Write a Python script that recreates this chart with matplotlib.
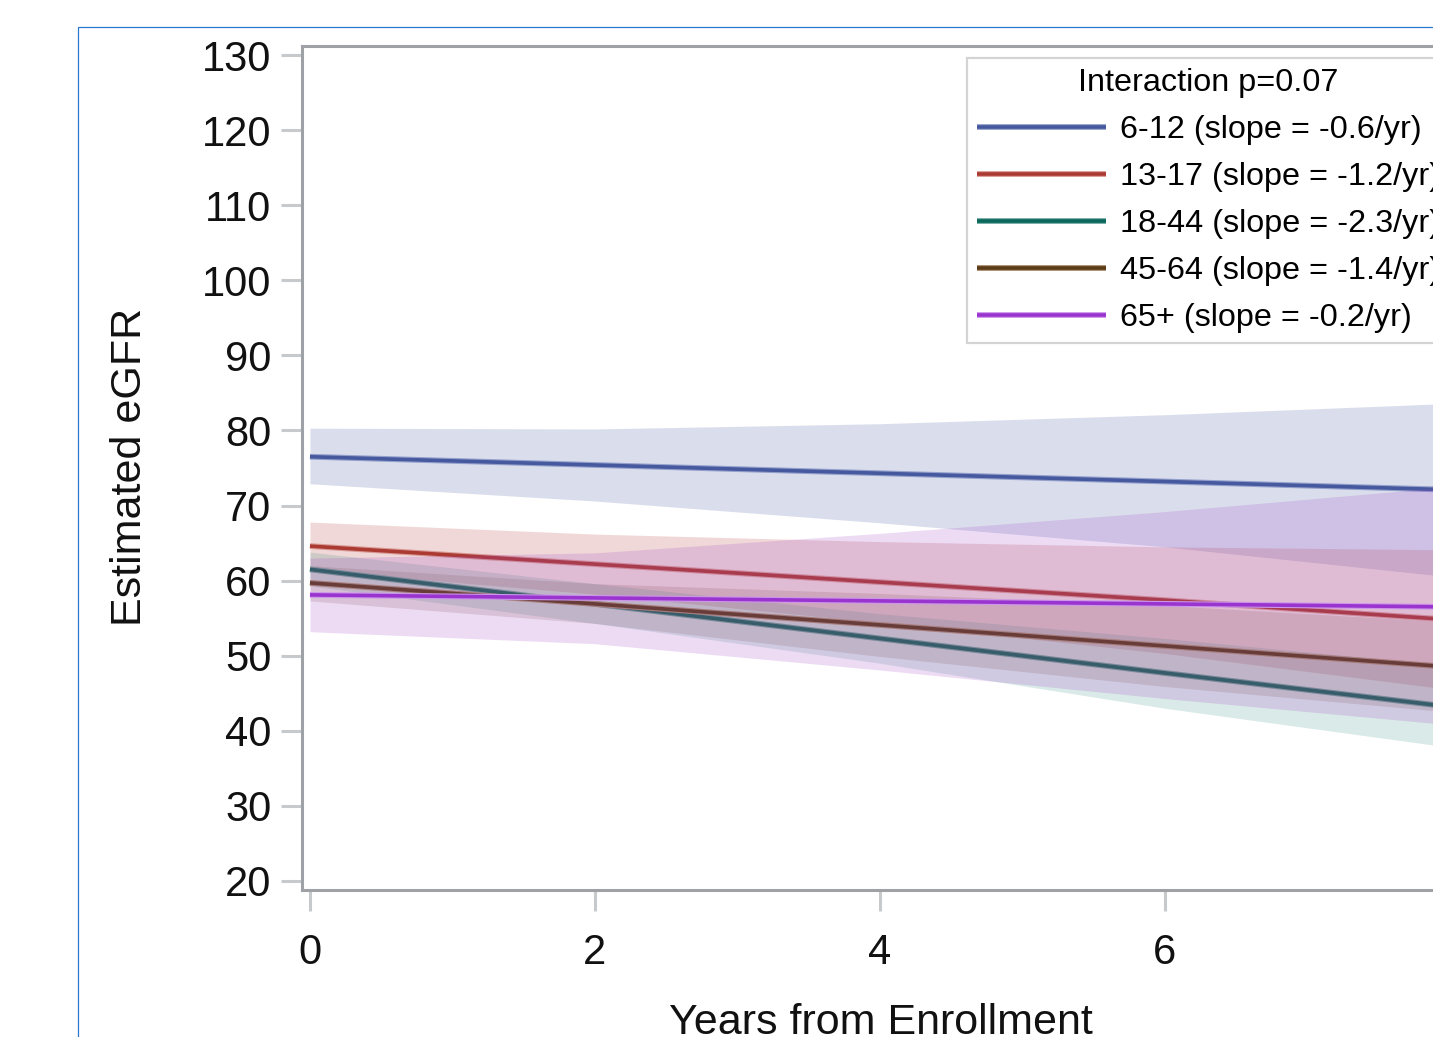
import matplotlib
matplotlib.use("Agg")
import matplotlib.pyplot as plt
import matplotlib.patheffects as pe
from matplotlib.patches import Rectangle
import numpy as np

plt.rcParams['font.family'] = ['Liberation Sans', 'DejaVu Sans']

# years from enrollment at which the curves were read
years = [0, 2, 4, 6, 8]

groups = ["6-12 (slope = -0.6/yr)", "13-17 (slope = -1.2/yr)",
          "18-44 (slope = -2.3/yr)", "45-64 (slope = -1.4/yr)",
          "65+ (slope = -0.2/yr)"]

# estimated eGFR lines
egfr_6_12 = [76.5, 75.4, 74.3, 73.2, 72.1]
egfr_13_17 = [64.6, 62.2, 59.8, 57.4, 54.8]
egfr_18_44 = [61.5, 56.9, 52.3, 47.7, 43.2]
egfr_45_64 = [59.7, 56.9, 54.1, 51.3, 48.5]
egfr_65 = [58.1, 57.7, 57.3, 56.9, 56.5]

# confidence bands (lower, upper)
lo_6_12 = [72.9, 70.6, 67.7, 64.5, 60.5]
hi_6_12 = [80.3, 80.2, 80.9, 82.1, 83.6]
lo_13_17 = [61.4, 58.2, 54.4, 50.3, 45.5]
hi_13_17 = [67.8, 66.2, 65.2, 64.5, 64.1]
lo_18_44 = [59.3, 54.3, 49.0, 43.0, 37.8]
hi_18_44 = [63.8, 59.6, 55.6, 52.3, 48.7]
lo_45_64 = [57.3, 54.3, 49.9, 45.9, 42.5]
hi_45_64 = [62.0, 59.6, 58.3, 56.7, 54.5]
lo_65 = [53.2, 51.6, 48.1, 44.3, 40.8]
hi_65 = [63.0, 63.7, 66.3, 69.2, 72.5]

lines = [egfr_6_12, egfr_13_17, egfr_18_44, egfr_45_64, egfr_65]
lows = [lo_6_12, lo_13_17, lo_18_44, lo_45_64, lo_65]
highs = [hi_6_12, hi_13_17, hi_18_44, hi_45_64, hi_65]

core_colors = ["#46599f", "#ab3a32", "#0b665c", "#5c3c18", "#9a34cf"]
edge_colors = ["#94a0cc", "#d89a94", "#70aaa2", "#a88a6c", "#cc96ea"]
band_colors = ["#4a5ea3", "#b8403c", "#1a8070", "#7a5038", "#a044c8"]
band_alpha = [0.2, 0.2, 0.16, 0.18, 0.19]

W, H = 1433, 1037
fig = plt.figure(figsize=(W / 100, H / 100), dpi=100)

# outer blue frame
fig.patches.append(Rectangle((78 / W, -0.5), 2.0, 0.5 + (1 - 27 / H),
                             transform=fig.transFigure, fill=False,
                             edgecolor="#2a78d0", linewidth=0.9))

ax_left = 302 / W
ax_bottom = (H - 890) / H
ax_height = (890 - 46) / H
x0, x1 = -0.056, 8.5
ax_width = (x1 - x0) * 142.5 / W
ax = fig.add_axes([ax_left, ax_bottom, ax_width, ax_height])

handles = []
for i in range(len(groups)):
    ax.fill_between(years, lows[i], highs[i], color=band_colors[i],
                    alpha=band_alpha[i], linewidth=0, zorder=2 + 2 * i)
    ln, = ax.plot(years, lines[i], color=core_colors[i], linewidth=2.6,
                  solid_capstyle="butt", zorder=3 + 2 * i, label=groups[i],
                  path_effects=[pe.Stroke(linewidth=4.2, foreground=edge_colors[i]),
                                pe.Normal()])
    handles.append(ln)

ax.set_xlim(x0, x1)
ax.set_ylim(20 - 9 / 7.509, 130 + 9 / 7.509)
ax.set_xticks([0, 2, 4, 6])
ax.set_yticks(np.arange(20, 131, 10))

for s in ax.spines.values():
    s.set_color("#9ea2a6")
    s.set_linewidth(2.2)
ax.tick_params(axis="both", direction="out", length=15, width=2.2,
               color="#c6cacd", labelsize=30, labelcolor="#111111")
ax.tick_params(axis="y", pad=7)
ax.tick_params(axis="x", pad=16)

fig.text(130 / W, 1 - 467 / H, "Estimated eGFR", rotation=90,
         ha="center", va="center", fontsize=31, color="#111111")
fig.text(881 / W, 1 - 1034 / H, "Years from Enrollment",
         ha="center", va="baseline", fontsize=31, color="#111111")

leg = ax.legend(handles=handles, title="Interaction p=0.07",
                loc="upper left", bbox_to_anchor=(967 / W, 1 - 58 / H),
                bbox_transform=fig.transFigure, fontsize=23.3,
                title_fontsize=23.3, frameon=True, fancybox=False,
                handlelength=4.0, handletextpad=0.42, labelspacing=0.53,
                borderpad=0.3, borderaxespad=0)
leg.get_frame().set_edgecolor("#cacaca")
leg.get_frame().set_linewidth(1.6)
leg.set_zorder(20)

fig.savefig("out.png", dpi=100)
